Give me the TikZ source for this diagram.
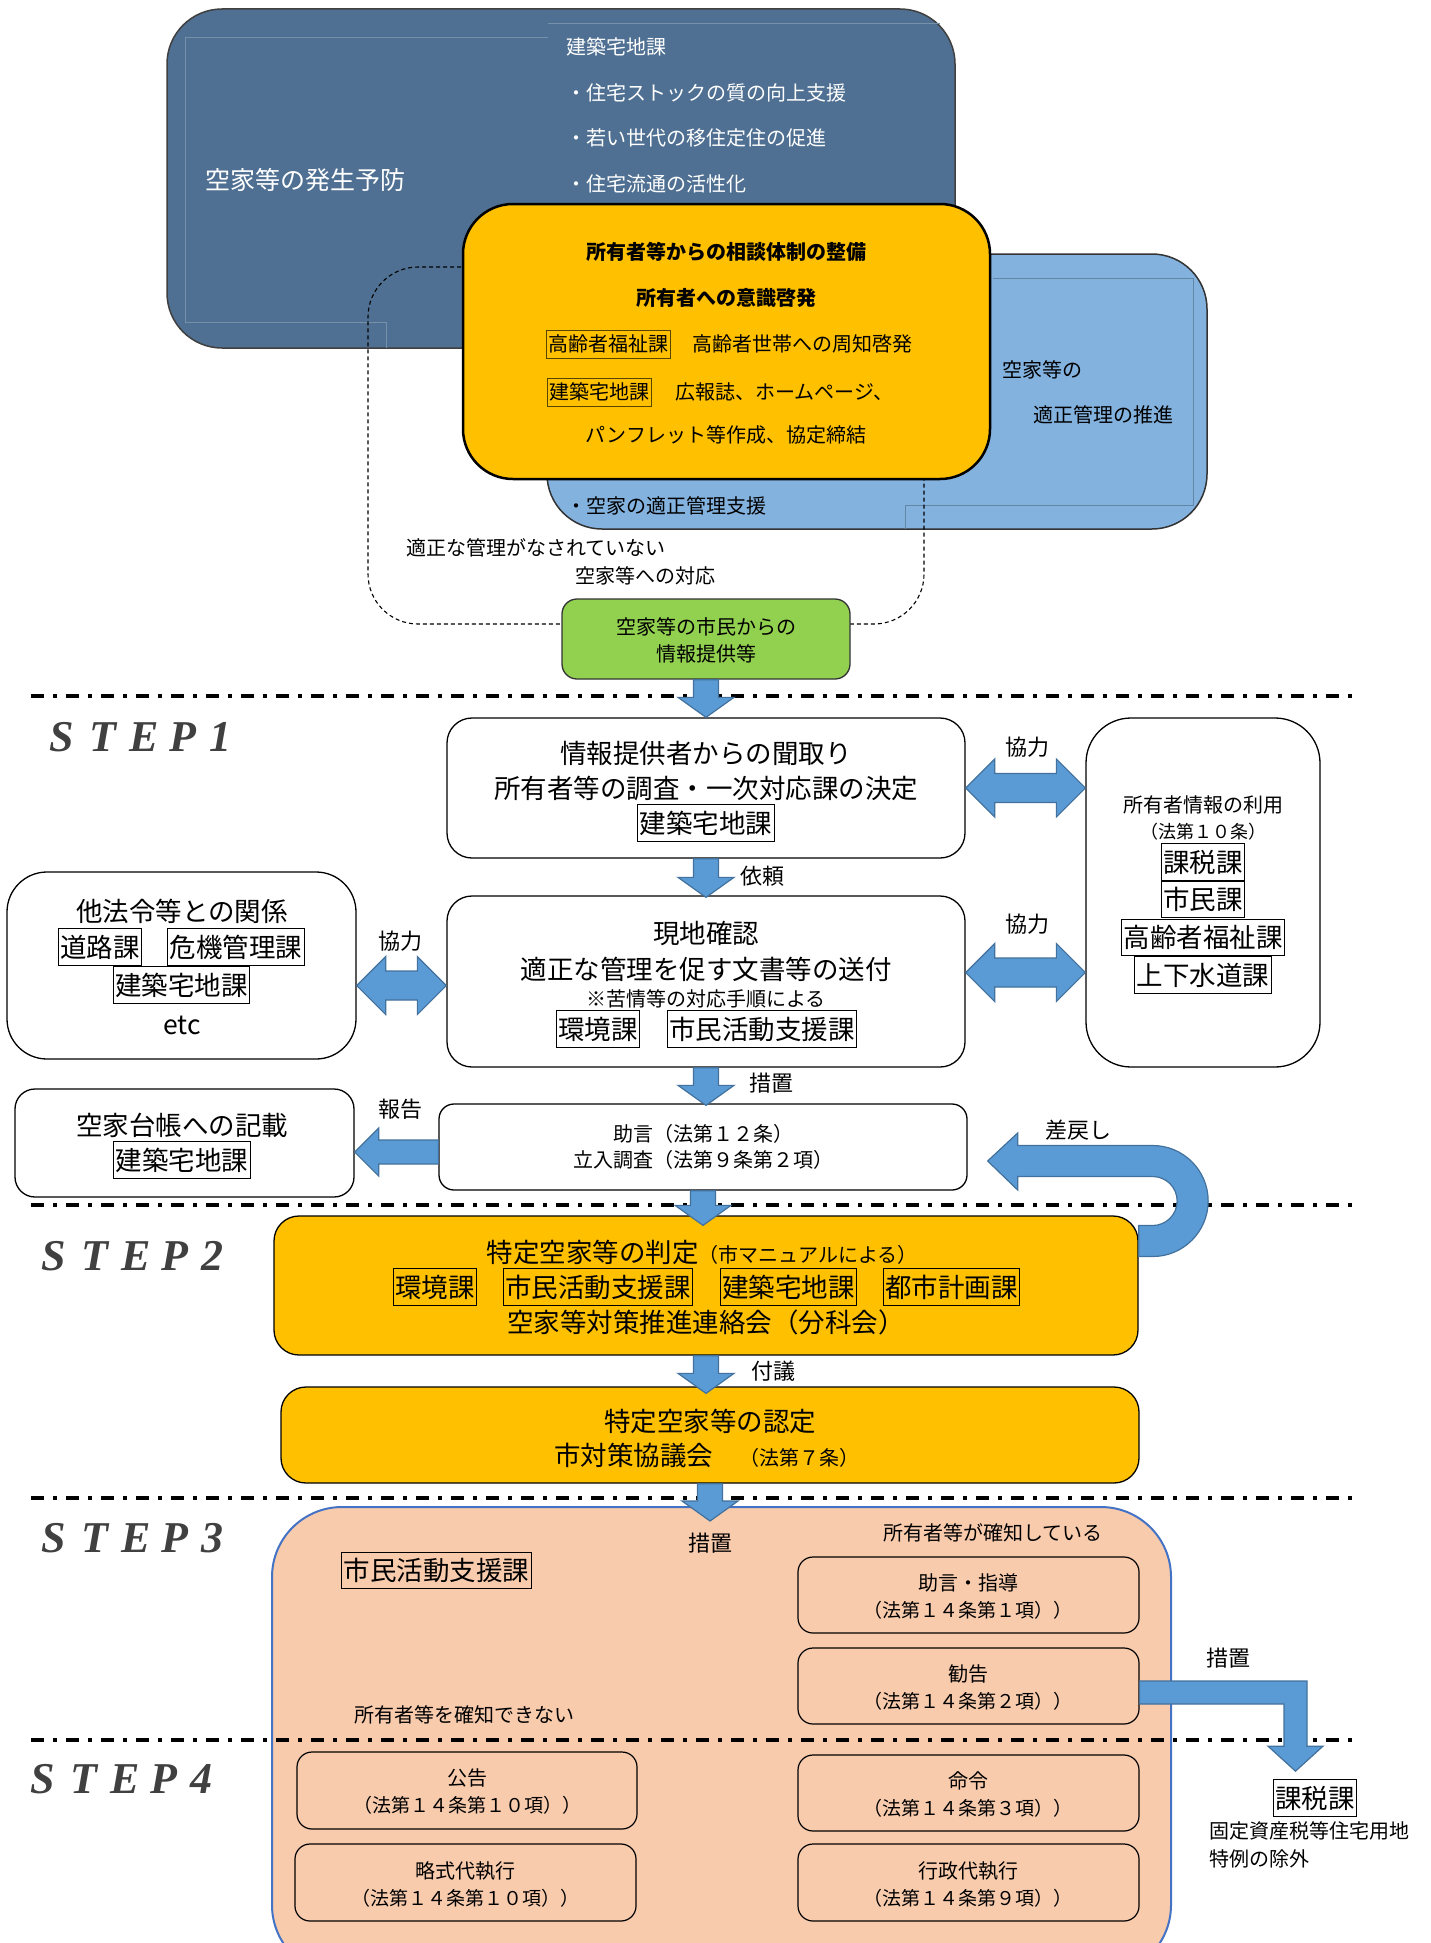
\documentclass[tikz,border=0pt]{standalone}
\usepackage{fontspec}
\setmainfont{Noto Sans CJK JP}
\newfontfamily\stepfnt{Liberation Serif}
\usetikzlibrary{calc}

\definecolor{yobo}{HTML}{4F7092}
\definecolor{kanri}{HTML}{84B2DF}
\definecolor{kiiro}{HTML}{FFC000}
\definecolor{midori}{HTML}{92D050}
\definecolor{hada}{HTML}{F8CBAD}
\definecolor{waku}{HTML}{4472C4}
\definecolor{ya}{HTML}{5B9BD5}
\definecolor{yawaku}{HTML}{41719C}
\definecolor{chawaku}{HTML}{5A4500}
\definecolor{stepcol}{HTML}{404040}

\newcommand\txtS{\fontsize{20pt}{24pt}\selectfont}
\newcommand\txtM{\fontsize{26.5pt}{30pt}\selectfont}
\newcommand\txtP{\fontsize{19pt}{23pt}\selectfont}
\newcommand\txtL{\fontsize{22pt}{26pt}\selectfont}
\newcommand\steptxt[1]{\makebox[40pt][l]{S}\makebox[40pt][l]{T}\makebox[40pt][l]{E}\makebox[40pt][l]{P}#1}

% block arrows between named nodes
\newcommand\blockdown[3][0]{%
  \draw[blockarrow] let \p1 = (#2.south), \p2 = ($(#3.north)+(0,#1)$) in
    (\x1-12.5pt,\y1) -- (\x1+12.5pt,\y1) -- (\x1+12.5pt,\y2+20pt) -- (\x1+28pt,\y2+20pt)
    -- (\x1,\y2) -- (\x1-28pt,\y2+20pt) -- (\x1-12.5pt,\y2+20pt) -- cycle;}
\newcommand\blockboth[3][0]{%
  \draw[blockarrow] let \p1 = ($(#2.east)+(0,#1)$), \p2 = (#3.west) in
    (\x1,\y1) -- (\x1+29pt,\y1+29pt) -- (\x1+29pt,\y1+14.5pt) -- (\x2-29pt,\y1+14.5pt)
    -- (\x2-29pt,\y1+29pt) -- (\x2,\y1) -- (\x2-29pt,\y1-29pt) -- (\x2-29pt,\y1-14.5pt)
    -- (\x1+29pt,\y1-14.5pt) -- (\x1+29pt,\y1-29pt) -- cycle;}

\begin{document}
\begin{tikzpicture}[x = 1pt, y = -1pt,
  box/.style = {draw = black, line width = 1.3pt, fill = white, rounded corners = 25pt, inner sep = 0pt},
  sub/.style = {box, fill = hada, rounded corners = 15pt, minimum width = 341pt, minimum height = 76pt, line width = 1.2pt},
  lbl/.style = {inner sep = 0pt, font = \txtS, text height = 17.6pt, text depth = 2.4pt},
  lblm/.style = {inner sep = 0pt, font = \txtM, text height = 23.3pt, text depth = 3.2pt},
  lblp/.style = {inner sep = 0pt, font = \txtP, text height = 16.7pt, text depth = 2.3pt},
  lab/.style = {inner sep = 0pt, font = \txtL},
  ka/.style = {draw = black, line width = 1.2pt, font = \txtM, inner xsep = 2pt, inner ysep = 5pt, text height = 23.3pt, text depth = 3.2pt},
  kasmall/.style = {draw = chawaku, line width = 1pt, font = \txtS, inner xsep = 2pt, inner ysep = 4pt, text height = 17.6pt, text depth = 2.4pt},
  blockarrow/.style = {fill = ya, draw = yawaku, line width = 1.2pt, line join = miter},
  stepline/.style = {line width = 4.5pt, dash pattern = on 13pt off 9pt on 4pt off 9pt},
  steplbl/.style = {anchor = base west, inner sep = 0pt, font = \stepfnt\bfseries\itshape\fontsize{44pt}{48pt}\selectfont, text = stepcol}]
\useasboundingbox (0,0) rectangle (1431,1943);
\clip (0,0) rectangle (1431,1943);

% prevention and management
\node[draw = black!75, line width = 1.5pt, fill = yobo, rounded corners = 55pt, minimum width = 788pt, minimum height = 339pt] (yobo) at (561,178.5) {};
\draw[white!22!yobo, line width = .8pt] (386,348) -- (386,322) -- (185,322) -- (185,37) -- (548,37);
\draw[white!22!yobo, line width = .8pt] (548,23) -- (940,23);
\node[draw = black!80, line width = 1.5pt, fill = kanri, rounded corners = 55pt, minimum width = 660pt, minimum height = 275pt] (tekisei) at (877,391.5) {};
\draw[black!25!kanri, line width = .8pt] (993,278) -- (1193,278) -- (1193,505) -- (905,505) -- (905,529);
\node[lbl, anchor = west, text = white] (kenchiku) at (566,47) {建築宅地課};
\node[lbl, anchor = west, text = white] (stock) at (566,93) {・住宅ストックの質の向上支援};
\node[lbl, anchor = west, text = white] (iju) at (566,138) {・若い世代の移住定住の促進};
\node[lbl, anchor = west, text = white] (ryutsu) at (566,184) {・住宅流通の活性化};
\node[inner sep = 0pt, anchor = west, text = white, font = \fontsize{25pt}{29pt}\selectfont] (hassei) at (205,180) {空家等の発生予防};
\node[lbl, anchor = west] (akiyano) at (1002,370) {空家等の};
\node[lbl, anchor = west] (suishin) at (1033,415) {適正管理の推進};
\node[lbl, anchor = west] (shien) at (566,506) {・空家の適正管理支援};

\node[draw = black, line width = 1.1pt, dash pattern = on 4pt off 3pt, rounded corners = 50pt, minimum width = 556pt, minimum height = 357pt] (taio) at (646,445.5) {};
\node[lbl, anchor = west] (nasarete) at (406,548) {適正な管理がなされていない};
\node[lbl, anchor = west] (taiou) at (575,576) {空家等への対応};

\node[draw = black, line width = 2.5pt, fill = kiiro, rounded corners = 50pt, minimum width = 527pt, minimum height = 275pt] (soudan) at (726.5,341.5) {};
\node[lbl, font = \txtS\bfseries] (taisei) at (726,252) {所有者等からの相談体制の整備};
\node[lbl, font = \txtS\bfseries] (keihatsu) at (726,298) {所有者への意識啓発};
\node[kasmall, anchor = west] (koreiA) at (546,344) {高齢者福祉課};
\node[lbl, anchor = west] (shuchi) at (692,344) {高齢者世帯への周知啓発};
\node[kasmall, anchor = west] (kenchikuA) at (547,392) {建築宅地課};
\node[lbl, anchor = west] (koho) at (675,392) {広報誌、ホームページ、};
\node[lbl] (pamph) at (726,435) {パンフレット等作成、協定締結};

\node[draw = black!80, line width = 1.3pt, fill = midori, rounded corners = 15pt, minimum width = 288pt, minimum height = 80pt] (joho) at (706,639) {};
\node[lbl] (joho1) at (706,627) {空家等の市民からの};
\node[lbl] (joho2) at (706,654) {情報提供等};

% STEP 1
\node[box, minimum width = 518pt, minimum height = 140pt] (kikitori) at (706,788) {};
\node[lblm] (kikitori1) at (706,753) {情報提供者からの聞取り};
\node[lblm] (kikitori2) at (706,788) {所有者等の調査・一次対応課の決定};
\node[ka] (kenchikuB) at (706,823) {建築宅地課};

\node[box, rounded corners = 45pt, minimum width = 234pt, minimum height = 349pt] (riyou) at (1203,892.5) {};
\node[lbl] (riyou1) at (1203,805) {所有者情報の利用};
\node[lbl, font = \fontsize{18pt}{22pt}\selectfont] (riyou2) at (1203,831) {（法第１０条）};
\node[ka] (kazei) at (1203,862) {課税課};
\node[ka] (shimin) at (1203,899.5) {市民課};
\node[ka] (koreiB) at (1203,937.5) {高齢者福祉課};
\node[ka] (gesui) at (1203,975) {上下水道課};

\node[box, minimum width = 518pt, minimum height = 171pt] (genchi) at (706,981.5) {};
\node[lblm] (genchi1) at (706,933) {現地確認};
\node[lblm] (genchi2) at (706,969) {適正な管理を促す文書等の送付};
\node[lbl] (genchi3) at (706,999) {※苦情等の対応手順による};
\node[ka] (kankyoA) at (598,1029) {環境課};
\node[ka] (katsudoA) at (762,1029) {市民活動支援課};

\node[box, rounded corners = 40pt, minimum width = 349pt, minimum height = 187pt] (kankei) at (181.5,965.5) {};
\node[lblm] (kankei1) at (182,911) {他法令等との関係};
\node[ka] (doro) at (100,947) {道路課};
\node[ka] (kiki) at (236,947) {危機管理課};
\node[ka] (kenchikuC) at (181.5,985) {建築宅地課};
\node[lblm] (etc) at (182,1024) {etc};

\node[box, rounded corners = 20pt, minimum width = 339pt, minimum height = 108pt] (daicho) at (184.5,1143) {};
\node[lblm] (daicho1) at (182,1125) {空家台帳への記載};
\node[ka] (kenchikuD) at (182,1160) {建築宅地課};

\node[box, rounded corners = 15pt, minimum width = 528pt, minimum height = 86pt] (jogen) at (703,1147) {};
\node[lbl] (jogen1) at (703,1134) {助言（法第１２条）};
\node[lbl] (jogen2) at (703,1160) {立入調査（法第９条第２項）};

% STEP 2
\node[box, fill = kiiro, minimum width = 864pt, minimum height = 139pt] (hantei) at (706,1285.5) {};
\node[lblm] (hantei1) at (702,1252) {特定空家等の判定{\txtS（市マニュアルによる）}};
\node[ka] (kankyoB) at (435,1287) {環境課};
\node[ka] (katsudoB) at (598,1287) {市民活動支援課};
\node[ka] (kenchikuE) at (788.5,1287) {建築宅地課};
\node[ka] (toshi) at (951.5,1287) {都市計画課};
\node[lblm] (renraku) at (706,1322) {空家等対策推進連絡会（分科会）};

\node[box, fill = kiiro, minimum width = 858pt, minimum height = 96pt] (nintei) at (710,1435) {};
\node[lblm] (nintei1) at (710,1421) {特定空家等の認定};
\node[lblm, anchor = west] (kyogikai) at (554,1455) {市対策協議会　{\txtS（法第７条）}};

% STEP 3 and 4
\node[draw = waku, line width = 2pt, fill = hada, rounded corners = 70pt, minimum width = 899pt, minimum height = 468pt] (sochi) at (721.5,1741) {};
\node[ka] (katsudoC) at (436.5,1570.5) {市民活動支援課};
\node[lbl] (kakuchi) at (993,1533) {所有者等が確知している};
\node[lbl, anchor = west] (fumei) at (354,1715) {所有者等を確知できない};

\node[sub] (shido) at (968.5,1595) {};
\node[lbl] (shido1) at (968,1583) {助言・指導};
\node[lblp] (shido2) at (968,1610) {（法第１４条第１項））};
\node[sub] (kankoku) at (968.5,1686) {};
\node[lbl] (kankoku1) at (968,1674) {勧告};
\node[lblp] (kankoku2) at (968,1701) {（法第１４条第２項））};
\node[sub] (meirei) at (968.5,1793) {};
\node[lbl] (meirei1) at (968,1781) {命令};
\node[lblp] (meirei2) at (968,1808) {（法第１４条第３項））};
\node[sub, minimum height = 77pt] (daishikko) at (968.5,1882.5) {};
\node[lbl] (daishikko1) at (968,1871) {行政代執行};
\node[lblp] (daishikko2) at (968,1898) {（法第１４条第９項））};
\node[sub, minimum width = 340pt, minimum height = 77pt] (kokoku) at (467,1790.5) {};
\node[lbl] (kokoku1) at (467,1778) {公告};
\node[lblp] (kokoku2) at (467,1805) {（法第１４条第１０項））};
\node[sub, minimum height = 77pt] (ryakushiki) at (465.5,1882.5) {};
\node[lbl] (ryakushiki1) at (465,1871) {略式代執行};
\node[lblp] (ryakushiki2) at (465,1898) {（法第１４条第１０項））};

\node[ka] (zeika) at (1315,1798) {課税課};
\node[lbl, anchor = west] (tokurei1) at (1209,1831) {固定資産税等住宅用地};
\node[lbl, anchor = west] (tokurei2) at (1209,1859) {特例の除外};

% step separators
\foreach \ly in {696,1205,1498,1740}
  \draw[stepline] (31,\ly) -- (1353,\ly);
\node[steplbl] (step1) at (49,751) {\steptxt{1}};
\node[steplbl] (step2) at (41,1270) {\steptxt{2}};
\node[steplbl] (step3) at (41,1552) {\steptxt{3}};
\node[steplbl] (step4) at (30,1793) {\steptxt{4}};

% arrows
\blockdown{joho}{kikitori}
\blockdown[2]{kikitori}{genchi}
\blockdown[2]{genchi}{jogen}
\blockdown[10]{jogen}{hantei}
\blockdown[7]{hantei}{nintei}
\blockdown[15]{nintei}{sochi}
\blockboth{kikitori}{riyou}
\blockboth[-9]{genchi}{riyou}
\blockboth[20]{kankei}{genchi}
\draw[blockarrow] let \p1 = ($(jogen.west)+(0,5)$), \p2 = (daicho.east) in
  (\x1,\y1+12pt) -- (\x2+24pt,\y1+12pt) -- (\x2+24pt,\y1+24pt) -- (\x2,\y1)
  -- (\x2+24pt,\y1-24pt) -- (\x2+24pt,\y1-12pt) -- (\x1,\y1-12pt) -- cycle;
\draw[blockarrow] let \p1 = (hantei.east), \p2 = (jogen.east) in
  (\x1,\y2-109.5pt) -- (\x1+14pt,\y2-109.5pt) arc[start angle = -90, end angle = 90, radius = 55.5pt]
  -- (\x2+50pt,\y2+1.5pt) -- (\x2+50pt,\y2+14pt) -- (\x2+20pt,\y2-14pt) -- (\x2+50pt,\y2-43pt)
  -- (\x2+50pt,\y2-29.5pt) -- (\x1+14pt,\y2-29.5pt) arc[start angle = 90, end angle = -90, radius = 24.5pt]
  -- (\x1,\y2-78.5pt) -- cycle;
\draw[blockarrow] let \p1 = (kankoku.east), \p2 = (zeika.north) in
  (\x1,\y1+5pt) -- (\x2-8pt,\y1+5pt) -- (\x2-8pt,\y2+33pt) -- (\x2+8pt,\y2+33pt) -- (\x2-19.5pt,\y2+8pt)
  -- (\x2-47pt,\y2+33pt) -- (\x2-31pt,\y2+33pt) -- (\x2-31pt,\y1-18pt) -- (\x1,\y1-18pt) -- cycle;

\node[lab] (kyoryoku1) at (1027,747) {協力};
\node[lab] (kyoryoku2) at (1027,924) {協力};
\node[lab] (kyoryoku3) at (400,941) {協力};
\node[lab] (irai) at (762,876) {依頼};
\node[lab] (sochiA) at (771,1083) {措置};
\node[lab] (hokoku) at (400,1109) {報告};
\node[lab] (sashimodoshi) at (1078,1130) {差戻し};
\node[lab] (fugi) at (773,1371) {付議};
\node[lab] (sochiB) at (710,1543) {措置};
\node[lab] (sochiC) at (1228,1658) {措置};
\end{tikzpicture}
\end{document}
